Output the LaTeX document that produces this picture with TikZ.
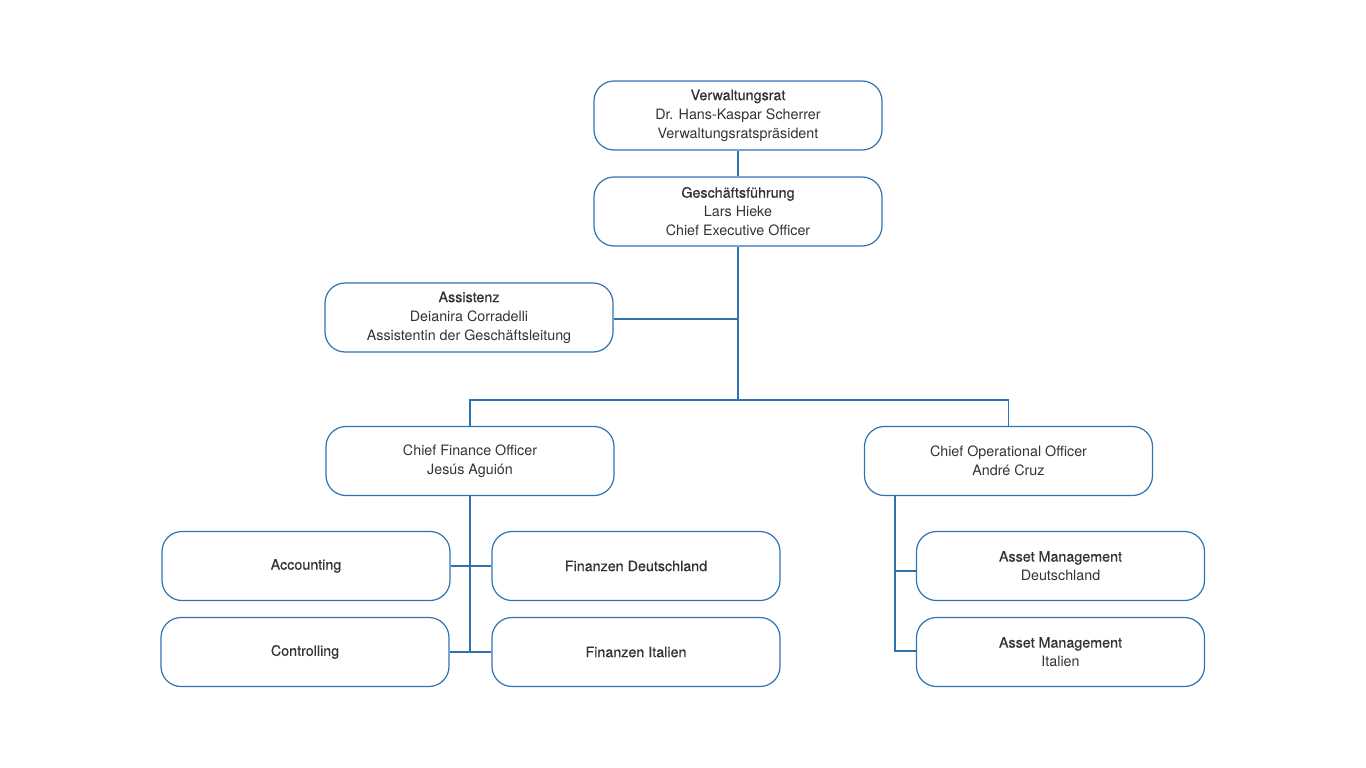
\documentclass[tikz,border=0pt]{standalone}
\usepackage{fontspec}
\setmainfont{TeX Gyre Heros}
\newfontfamily\medfont{TeX Gyre Heros}[FakeBold=0.5]
\definecolor{lineblue}{HTML}{2E72B0}
\definecolor{txt}{HTML}{333333}
\begin{document}
\begin{tikzpicture}[x=1pt,y=-1pt,
  box/.style={draw=lineblue, line width=1.2pt, rounded corners=20pt,
    minimum width=288pt, minimum height=69pt, align=center, text=txt,
    font=\fontsize{14.3}{19}\selectfont, inner sep=0pt},
  conn/.style={draw=lineblue, line width=1.4pt}]
\useasboundingbox (0,0) rectangle (1366,768);

\node[box] (vr) at (738,115.5) {{\medfont Verwaltungsrat}\\Dr. Hans-Kaspar Scherrer\\Verwaltungsratspräsident};
\node[box] (gf) at (738,211.5) {{\medfont Geschäftsführung}\\Lars Hieke\\Chief Executive Officer};
\node[box] (as) at (469,317.5) {{\medfont Assistenz}\\Deianira Corradelli\\Assistentin der Geschäftsleitung};
\node[box] (cfo) at (470,461) {Chief Finance Officer\\Jesús Aguión};
\node[box] (coo) at (1008.5,461) {Chief Operational Officer\\André Cruz};
\node[box] (acc) at (306,566) {{\medfont Accounting}};
\node[box] (ctrl) at (305,652) {{\medfont Controlling}};
\node[box] (fd) at (636,566) {{\medfont Finanzen Deutschland}};
\node[box] (fi) at (636,652) {{\medfont Finanzen Italien}};
\node[box] (amd) at (1060.5,566) {{\medfont Asset Management}\\Deutschland};
\node[box] (ami) at (1060.5,652) {{\medfont Asset Management}\\Italien};

\coordinate (j1) at (738,400);
\draw[conn] (vr.south) -- (gf.north);
\draw[conn] (gf.south) -- (j1);
\draw[conn] ([yshift=-1.5pt]as.east) -- ([yshift=-1.5pt]as.east -| gf.south);
\draw[conn] (cfo.north) |- (j1) -| (coo.north);

\coordinate (c1) at (cfo.south |- fi.west);
\draw[conn] (cfo.south) -- (c1);
\draw[conn] (acc.east) -- (fd.west);
\draw[conn] (ctrl.east) -- (fi.west);

\coordinate (ct) at ([xshift=-113.5pt]coo.south);
\draw[conn] (ct) |- ([yshift=-5pt]amd.west);
\draw[conn] (ct) |- ([yshift=1pt]ami.west);
\end{tikzpicture}
\end{document}
